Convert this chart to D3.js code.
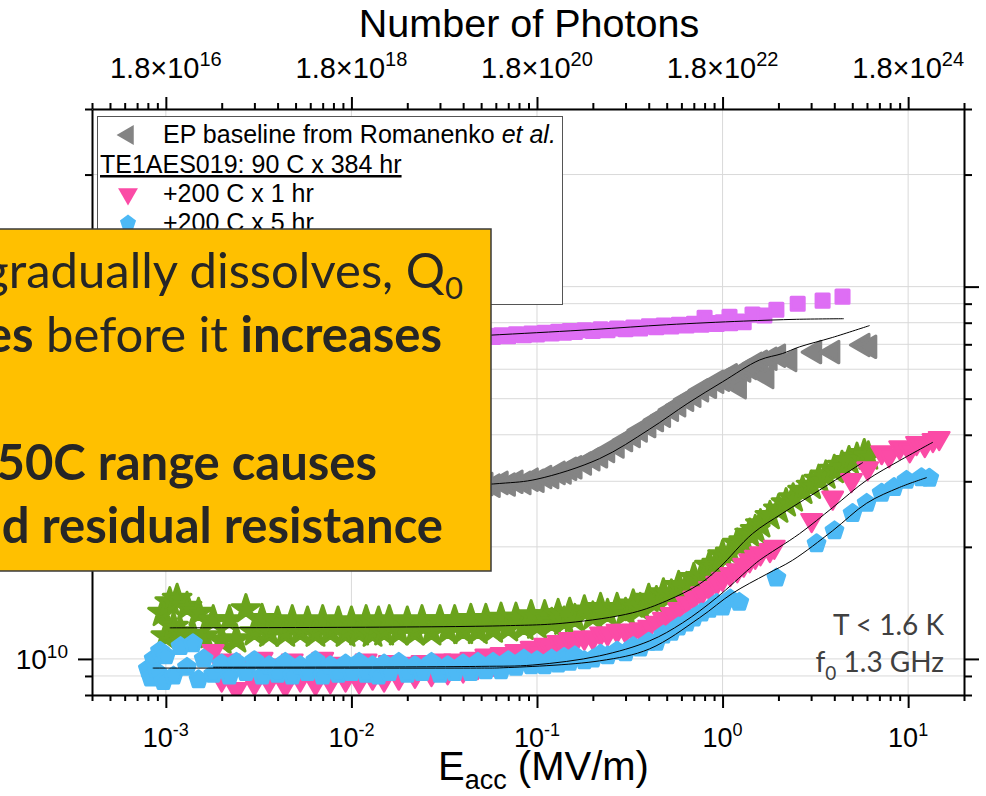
<!DOCTYPE html>
<html>
<head>
<meta charset="utf-8">
<script src="https://cdn.jsdelivr.net/npm/d3@7"></script>
<style>
  body { margin: 0; background: #fff; overflow: hidden; }
  svg { display: block; }
</style>
</head>
<body>
<div id="chart"></div>
<script>
// [E_acc (MV/m), Q0 in units of 1e10]
const grayPts = [
  [2e-3, 2.80], [3e-3, 2.83], [5e-3, 2.82], [8e-3, 2.85], [1.2e-2, 2.84], [1.8e-2, 2.87], [2.5e-2, 2.86],
  [3.3e-2, 2.89], [4.0e-2, 2.90], [4.4e-2, 2.93], [4.8e-2, 2.90], [5.3e-2, 2.95], [5.8e-2, 2.92],
  [6.4e-2, 2.97], [7.0e-2, 2.94], [7.7e-2, 2.99], [8.5e-2, 2.97], [9.3e-2, 3.03],
  [0.10, 3.01], [0.11, 3.08], [0.12, 3.08], [0.13, 3.16], [0.14, 3.17], [0.15, 3.24], [0.16, 3.27],
  [0.18, 3.35], [0.20, 3.44], [0.22, 3.50], [0.24, 3.62], [0.27, 3.72], [0.30, 3.87], [0.33, 3.97],
  [0.36, 4.11], [0.40, 4.22], [0.44, 4.38], [0.48, 4.50], [0.53, 4.67], [0.58, 4.80], [0.64, 4.97],
  [0.70, 5.09], [0.77, 5.27], [0.85, 5.38], [0.93, 5.55], [1.0, 5.62], [1.1, 5.78], [1.2, 5.55],
  [1.23, 5.37], [1.3, 5.95], [1.4, 6.05], [1.5, 6.20], [1.6, 6.28], [1.73, 5.72], [1.8, 6.40],
  [2.0, 6.52], [2.3, 6.35], [3.13, 6.67], [3.92, 6.67], [5.7, 6.97], [6.2, 6.89]
];
const grayFit = [
  [1e-3, 2.78], [0.01, 2.84], [0.063, 2.96], [0.1, 3.04], [0.217, 3.45], [0.404, 4.14],
  [0.65, 4.86], [1.0, 5.55], [1.58, 6.35], [2.1, 6.61], [2.6, 6.89], [3.9, 7.3], [6.2, 7.86]
];

const violetPts = [
  [1.05e-3, 6.98], [2e-3, 7.05], [4e-3, 7.10], [8e-3, 7.12], [1.5e-2, 7.20], [2.5e-2, 7.24], [4e-2, 7.28],
  [4.8e-2, 7.33], [5.3e-2, 7.38], [5.8e-2, 7.32], [6.4e-2, 7.40], [7.0e-2, 7.36], [7.7e-2, 7.45],
  [8.5e-2, 7.40], [9.3e-2, 7.48], [0.10, 7.44], [0.11, 7.52], [0.12, 7.48], [0.13, 7.56], [0.14, 7.52],
  [0.15, 7.60], [0.16, 7.55], [0.18, 7.64], [0.20, 7.60], [0.22, 7.68], [0.24, 7.64], [0.27, 7.72],
  [0.30, 7.68], [0.33, 7.76], [0.36, 7.72], [0.40, 7.82], [0.44, 7.78], [0.48, 7.86], [0.53, 7.82],
  [0.58, 7.90], [0.64, 7.86], [0.70, 7.95], [0.77, 7.90], [0.80, 8.25], [0.85, 7.98], [0.93, 7.94],
  [1.0, 8.02], [1.09, 8.30], [1.1, 7.98], [1.2, 8.06], [1.3, 8.02], [1.45, 8.41], [1.68, 8.36],
  [1.95, 8.67], [2.54, 9.00], [3.46, 9.17], [4.43, 9.40]
];
const violetFit = [
  [1.05e-3, 6.9], [0.01, 7.1], [0.063, 7.43], [0.2, 7.67], [0.5, 7.9], [1.3, 8.08], [2.5, 8.17], [4.5, 8.2]
];

const greenPts = [
  [9.6e-4, 1.33], [1.0e-3, 1.15], [1.05e-3, 1.42], [1.1e-3, 1.22], [1.15e-3, 1.45], [1.2e-3, 1.18],
  [1.3e-3, 1.38], [1.4e-3, 1.16], [1.5e-3, 1.33], [1.6e-3, 1.15], [1.8e-3, 1.27], [2.0e-3, 1.12],
  [2.2e-3, 1.27], [2.4e-3, 1.13], [2.7e-3, 1.36], [3.0e-3, 1.18], [3.3e-3, 1.28], [3.6e-3, 1.17],
  [4.0e-3, 1.26], [4.4e-3, 1.17], [4.8e-3, 1.27], [5.3e-3, 1.18], [5.8e-3, 1.26], [6.4e-3, 1.17],
  [7.0e-3, 1.27], [7.7e-3, 1.18], [8.5e-3, 1.26], [9.3e-3, 1.17],
  [1.0e-2, 1.26], [1.1e-2, 1.18], [1.2e-2, 1.27], [1.3e-2, 1.17], [1.4e-2, 1.26], [1.5e-2, 1.18],
  [1.6e-2, 1.27], [1.8e-2, 1.18], [2.0e-2, 1.26], [2.2e-2, 1.18], [2.4e-2, 1.27], [2.7e-2, 1.18],
  [3.0e-2, 1.27], [3.3e-2, 1.19], [3.6e-2, 1.27], [4.0e-2, 1.19], [4.4e-2, 1.28], [4.8e-2, 1.19],
  [5.3e-2, 1.28], [5.8e-2, 1.20], [6.4e-2, 1.29], [7.0e-2, 1.21], [7.7e-2, 1.29], [8.5e-2, 1.22],
  [9.3e-2, 1.31], [0.10, 1.23], [0.11, 1.31], [0.12, 1.25], [0.13, 1.32], [0.14, 1.26], [0.15, 1.33],
  [0.16, 1.28], [0.18, 1.35], [0.20, 1.30], [0.22, 1.37], [0.24, 1.32], [0.27, 1.37], [0.30, 1.33],
  [0.33, 1.40], [0.36, 1.37], [0.40, 1.45], [0.44, 1.43], [0.48, 1.50], [0.53, 1.49], [0.58, 1.57],
  [0.64, 1.56], [0.70, 1.65], [0.77, 1.66], [0.85, 1.78], [0.93, 1.80], [1.0, 1.90], [1.1, 1.93],
  [1.2, 2.04], [1.3, 2.07], [1.4, 2.17], [1.5, 2.22], [1.6, 2.30], [1.8, 2.42], [2.0, 2.52],
  [2.2, 2.62], [2.4, 2.70], [2.7, 2.83], [3.0, 2.92], [3.3, 3.03], [3.6, 3.11], [4.0, 3.22],
  [4.4, 3.30], [4.8, 3.40], [5.3, 3.47], [5.8, 3.55], [6.1, 3.50]
];
const greenFit = [
  [1.05e-3, 1.212], [0.063, 1.227], [0.145, 1.25], [0.327, 1.33], [0.5, 1.433], [0.752, 1.59],
  [0.963, 1.76], [1.45, 2.17], [2.1, 2.46], [3.33, 2.84], [5.7, 3.37]
];

const pinkPts = [
  [1.8e-3, 1.05], [2.0e-3, 0.88], [2.2e-3, 0.99], [2.4e-3, 0.83], [2.7e-3, 0.95], [3.0e-3, 0.86],
  [3.3e-3, 1.00], [3.6e-3, 0.87], [4.0e-3, 0.96], [4.4e-3, 0.85], [4.8e-3, 0.99], [5.3e-3, 0.88],
  [5.8e-3, 0.95], [6.4e-3, 0.86], [7.0e-3, 1.00], [7.7e-3, 0.87], [8.5e-3, 0.97], [9.3e-3, 0.88],
  [1.0e-2, 0.96], [1.1e-2, 0.87], [1.2e-2, 0.99], [1.3e-2, 0.89], [1.4e-2, 0.96], [1.5e-2, 0.88],
  [1.6e-2, 0.98], [1.8e-2, 0.89], [2.0e-2, 0.97], [2.2e-2, 0.90], [2.4e-2, 0.98], [2.7e-2, 0.91],
  [3.0e-2, 0.99], [3.3e-2, 0.92], [3.6e-2, 0.99], [4.0e-2, 0.93], [4.4e-2, 1.00], [4.8e-2, 0.95],
  [5.3e-2, 1.02], [5.8e-2, 0.97], [6.4e-2, 1.03], [7.0e-2, 1.00], [7.7e-2, 1.05], [8.5e-2, 1.03],
  [9.3e-2, 1.07], [0.10, 1.05], [0.11, 1.09], [0.12, 1.07], [0.13, 1.11], [0.14, 1.09], [0.15, 1.13],
  [0.16, 1.11], [0.18, 1.14], [0.20, 1.14], [0.22, 1.17], [0.24, 1.17], [0.27, 1.19], [0.30, 1.19],
  [0.33, 1.19], [0.36, 1.20], [0.40, 1.22], [0.44, 1.25], [0.48, 1.28], [0.53, 1.32], [0.58, 1.36],
  [0.64, 1.41], [0.70, 1.46], [0.77, 1.50], [0.85, 1.55], [0.93, 1.60], [1.0, 1.64], [1.1, 1.69],
  [1.2, 1.73], [1.3, 1.79], [1.4, 1.84], [1.5, 1.88], [1.6, 1.92], [1.8, 1.96], [1.9, 2.00],
  [3.02, 2.36], [3.92, 2.71], [4.95, 3.02], [6.05, 3.25], [7.2, 3.59], [7.9, 3.52], [9.0, 3.70],
  [10.2, 3.63], [11.1, 3.80], [12.3, 3.75], [13.6, 3.87], [14.7, 3.92]
];
const pinkFit = [
  [1.8e-3, 0.95], [0.05, 0.955], [0.095, 0.963], [0.217, 1.019], [0.404, 1.118], [0.609, 1.25],
  [0.928, 1.46], [1.40, 1.75], [1.58, 1.84], [2.6, 2.17], [3.92, 2.55], [5.98, 3.02], [9.0, 3.41], [13.6, 3.82]
];

const bluePts = [
  [8.0e-4, 0.94], [8.3e-4, 0.89], [8.6e-4, 1.00], [9.0e-4, 0.92], [9.3e-4, 1.05], [9.7e-4, 0.87],
  [1.0e-3, 1.02], [1.1e-3, 0.90], [1.2e-3, 1.08], [1.3e-3, 0.95], [1.4e-3, 1.10], [1.5e-3, 0.88],
  [1.6e-3, 1.00], [1.8e-3, 0.91], [2.0e-3, 0.97], [2.2e-3, 0.90], [2.4e-3, 0.98], [2.7e-3, 0.92],
  [3.0e-3, 0.99], [3.3e-3, 0.90], [3.6e-3, 0.96], [4.0e-3, 0.91], [4.4e-3, 0.98], [4.8e-3, 0.90],
  [5.3e-3, 0.96], [5.8e-3, 0.92], [6.4e-3, 0.99], [7.0e-3, 0.90], [7.7e-3, 0.96], [8.5e-3, 0.91],
  [9.3e-3, 0.97], [1.0e-2, 0.92], [1.1e-2, 0.98], [1.2e-2, 0.91], [1.3e-2, 0.96], [1.4e-2, 0.90],
  [1.5e-2, 0.97], [1.6e-2, 0.92], [1.8e-2, 0.98], [2.0e-2, 0.91], [2.2e-2, 0.96], [2.4e-2, 0.92],
  [2.7e-2, 0.98], [3.0e-2, 0.91], [3.3e-2, 0.96], [3.6e-2, 0.92], [4.0e-2, 0.97], [4.4e-2, 0.92],
  [4.8e-2, 0.98], [5.3e-2, 0.93], [5.8e-2, 0.98], [6.4e-2, 0.93], [7.0e-2, 0.99], [7.7e-2, 0.95],
  [8.5e-2, 1.00], [9.3e-2, 0.96], [0.10, 0.99], [0.11, 0.96], [0.12, 1.00], [0.13, 0.97], [0.14, 1.01],
  [0.15, 0.98], [0.16, 1.02], [0.18, 0.99], [0.20, 1.00], [0.22, 1.03], [0.24, 1.02], [0.27, 1.05],
  [0.30, 1.04], [0.33, 1.08], [0.36, 1.07], [0.40, 1.11], [0.44, 1.11], [0.48, 1.16], [0.53, 1.18],
  [0.58, 1.22], [0.64, 1.25], [0.70, 1.29], [0.77, 1.33], [0.85, 1.36], [0.93, 1.41], [1.0, 1.38],
  [1.1, 1.45], [1.23, 1.42], [1.95, 1.65], [3.21, 2.04], [4.01, 2.21], [5.02, 2.46], [5.98, 2.62],
  [7.2, 2.79], [8.4, 2.89], [9.8, 3.02], [11.8, 3.07], [13.0, 3.06]
];
const blueFit = [
  [8.5e-4, 0.945], [0.05, 0.945], [0.063, 0.946], [0.217, 0.988], [0.404, 1.064], [0.752, 1.29],
  [1.13, 1.50], [1.73, 1.69], [2.38, 1.84], [3.92, 2.21], [5.98, 2.62], [9.0, 2.89], [12.6, 3.07]
];

const eaccExponents = ["-3", "-2", "-1", "0", "1"];
const photonExponents = ["16", "18", "20", "22", "24"];
const qExponents = ["10", "11"];
const legendItems = [
  { label: "EP baseline from Romanenko ", italic: "et al.", key: "gray" },
  { label: "+200 C x 1 hr", key: "pink" },
  { label: "+200 C x 5 hr", key: "blue" }
];

const width = 986, height = 796;
const plot = { left: 92, right: 964, top: 109, bottom: 695 };

const x = d3.scaleLog().domain([4e-4, 20]).range([plot.left, plot.right]);
const y = d3.scaleLog().domain([8e9, 3e11]).range([plot.bottom, plot.top]);
const qy = d => y(d[1] * 1e10);

const symbolPentagon = {
  draw(ctx, size) {
    const r = Math.sqrt(size / 2.3776);
    for (let i = 0; i < 5; i++) {
      const a = -Math.PI / 2 + i * 2 * Math.PI / 5;
      i ? ctx.lineTo(r * Math.cos(a), r * Math.sin(a)) : ctx.moveTo(r * Math.cos(a), r * Math.sin(a));
    }
    ctx.closePath();
  }
};

const series = {
  gray:   { data: grayPts,   fit: grayFit,   color: "#848484", type: d3.symbolTriangle, size: 200, rot: -90, sw: 3 },
  violet: { data: violetPts, fit: violetFit, color: "#DE6EF4", type: d3.symbolSquare,   size: 170, rot: 0,   sw: 3 },
  green:  { data: greenPts,  fit: greenFit,  color: "#6AA31C", type: d3.symbolStar,     size: 240, rot: 0,   sw: 3 },
  pink:   { data: pinkPts,   fit: pinkFit,   color: "#FB4BA6", type: d3.symbolTriangle, size: 180, rot: 180, sw: 2.5 },
  blue:   { data: bluePts,   fit: blueFit,   color: "#4DB9F5", type: symbolPentagon,    size: 185, rot: 0,   sw: 3 }
};

const svg = d3.select("#chart").append("svg")
  .attr("width", width).attr("height", height)
  .style("font-family", "'Liberation Sans', Arial, sans-serif");

svg.append("defs").append("clipPath").attr("id", "plot-clip")
  .append("rect").attr("x", plot.left).attr("y", plot.top)
  .attr("width", plot.right - plot.left).attr("height", plot.bottom - plot.top);

const xTicks = x.ticks();
const yTicks = y.ticks();
const isMajor = d => Math.abs(Math.log10(d) - Math.round(Math.log10(d))) < 1e-6;

// grid
const grid = svg.append("g").attr("stroke", "#d9d9d9").attr("stroke-width", 1);
grid.selectAll(".vx").data(xTicks.filter(isMajor)).join("line")
  .attr("x1", d => x(d)).attr("x2", d => x(d)).attr("y1", plot.top).attr("y2", plot.bottom);
grid.selectAll(".hy").data(yTicks).join("line")
  .attr("x1", plot.left).attr("x2", plot.right).attr("y1", d => y(d)).attr("y2", d => y(d));

// markers
const marks = svg.append("g").attr("clip-path", "url(#plot-clip)");
Object.values(series).forEach(s => {
  marks.append("g").selectAll("path").data(s.data).join("path")
    .attr("transform", d => `translate(${x(d[0])},${qy(d)}) rotate(${s.rot})`)
    .attr("d", d3.symbol().type(s.type).size(s.size))
    .attr("fill", s.color).attr("stroke", s.color)
    .attr("stroke-width", s.sw).attr("stroke-linejoin", "round");
});

// fits
const fitLine = d3.line().x(d => x(d[0])).y(qy).curve(d3.curveCatmullRom);
Object.values(series).forEach(s => {
  marks.append("path").datum(s.fit).attr("d", fitLine)
    .attr("fill", "none").attr("stroke", "#000").attr("stroke-width", 1);
});

// axes
function styleAxis(g, len) {
  g.select(".domain").attr("stroke-width", 2);
  g.selectAll(".tick line").attr("stroke-width", 2);
  g.selectAll(".tick text").remove();
  len(g.selectAll(".tick line"));
}
svg.append("g").attr("transform", `translate(0,${plot.bottom})`)
  .call(d3.axisBottom(x).tickValues(xTicks).tickSizeOuter(0))
  .call(g => styleAxis(g, l => l.attr("y2", d => isMajor(d) ? 13 : 6)));
svg.append("g").attr("transform", `translate(0,${plot.top})`)
  .call(d3.axisTop(x).tickValues(xTicks).tickSizeOuter(0))
  .call(g => styleAxis(g, l => l.attr("y2", d => isMajor(d) ? -12 : -6)));
svg.append("g").attr("transform", `translate(${plot.left},0)`)
  .call(d3.axisLeft(y).tickValues(yTicks).tickSizeOuter(0))
  .call(g => styleAxis(g, l => l.attr("x2", d => isMajor(d) ? -14 : -7)));
svg.append("g").attr("transform", `translate(${plot.right},0)`)
  .call(d3.axisRight(y).tickValues(yTicks).tickSizeOuter(0))
  .call(g => styleAxis(g, l => l.attr("x2", d => isMajor(d) ? 15 : 8)));

function powText(sel, base, exp, supSize, rise) {
  sel.append("tspan").text(base);
  sel.append("tspan").attr("font-size", supSize).attr("dy", -rise).text(exp);
}

// bottom labels
xTicks.filter(isMajor).forEach((d, i) => {
  const t = svg.append("text").attr("x", x(d)).attr("y", 747)
    .attr("text-anchor", "middle").attr("font-size", 27).attr("fill", "#000");
  powText(t, "10", eaccExponents[i], 18, 11);
});
// top labels
xTicks.filter(isMajor).forEach((d, i) => {
  const t = svg.append("text").attr("x", x(d)).attr("y", 78)
    .attr("text-anchor", "middle").attr("font-size", 29).attr("fill", "#000");
  powText(t, "1.8×10", photonExponents[i], 20, 12);
});
// left labels
yTicks.filter(isMajor).forEach((d, i) => {
  const t = svg.append("text").attr("x", 68).attr("y", y(d) + 10)
    .attr("text-anchor", "end").attr("font-size", 28).attr("fill", "#000");
  powText(t, "10", qExponents[i], 19, 11);
});

// axis titles
svg.append("text").attr("x", 529).attr("y", 37).attr("text-anchor", "middle")
  .attr("font-size", 39.5).text("Number of Photons");
const xt = svg.append("text").attr("x", 438).attr("y", 780).attr("font-size", 40);
xt.append("tspan").text("E");
xt.append("tspan").attr("font-size", 27).attr("dy", 9).text("acc");
xt.append("tspan").attr("dy", -9).text(" (MV/m)");

// legend
const lg = svg.append("g");
lg.append("rect").attr("x", 97.5).attr("y", 116.5).attr("width", 465).attr("height", 188)
  .attr("fill", "#fff").attr("stroke", "#555").attr("stroke-width", 1);
const rowY = { gray: 143, pink: 202, blue: 231 };
legendItems.forEach(it => {
  const s = series[it.key];
  lg.append("path")
    .attr("transform", `translate(128,${rowY[it.key] - 8}) rotate(${s.rot})`)
    .attr("d", d3.symbol().type(s.type).size(170)).attr("fill", s.color);
  const t = lg.append("text").attr("x", 163).attr("y", rowY[it.key]).attr("font-size", 25);
  t.append("tspan").text(it.label);
  if (it.italic) t.append("tspan").attr("font-style", "italic").text(it.italic);
});
lg.append("text").attr("x", 100).attr("y", 173).attr("font-size", 25)
  .attr("text-decoration", "underline").text("TE1AES019: 90 C x 384 hr");

// conditions
const cond = svg.append("g").attr("font-family", "Lato, 'Open Sans', sans-serif")
  .attr("fill", "#404040").attr("text-anchor", "end").attr("font-size", 28);
cond.append("text").attr("x", 944).attr("y", 635).text("T < 1.6 K");
const f0 = cond.append("text").attr("x", 944).attr("y", 672);
f0.append("tspan").text("f");
f0.append("tspan").attr("font-size", 19).attr("dy", 8).text("0");
f0.append("tspan").attr("dy", -8).text(" 1.3 GHz");

// callout
const box = svg.append("g").attr("font-family", "Lato, 'Open Sans', sans-serif")
  .attr("fill", "#262626").attr("font-size", 49);
box.append("rect").attr("x", -5).attr("y", 229).attr("width", 496).attr("height", 342)
  .attr("fill", "#FFC000").attr("stroke", "#3a3a3a").attr("stroke-width", 1.5);
const l1 = box.append("text").attr("x", 463).attr("y", 288).attr("text-anchor", "end");
l1.append("tspan").text("gradually dissolves, Q");
l1.append("tspan").attr("font-size", 31).attr("dy", 11).text("0");
const l2 = box.append("text").attr("x", 442).attr("y", 352).attr("text-anchor", "end");
l2.append("tspan").attr("font-weight", "bold").text("es");
l2.append("tspan").text(" before it ");
l2.append("tspan").attr("font-weight", "bold").text("increases");
box.append("text").attr("x", 377).attr("y", 480).attr("text-anchor", "end")
  .attr("font-weight", "bold").text("50C range causes");
box.append("text").attr("x", 443).attr("y", 543).attr("text-anchor", "end")
  .attr("font-weight", "bold").text("d residual resistance");
</script>
</body>
</html>
